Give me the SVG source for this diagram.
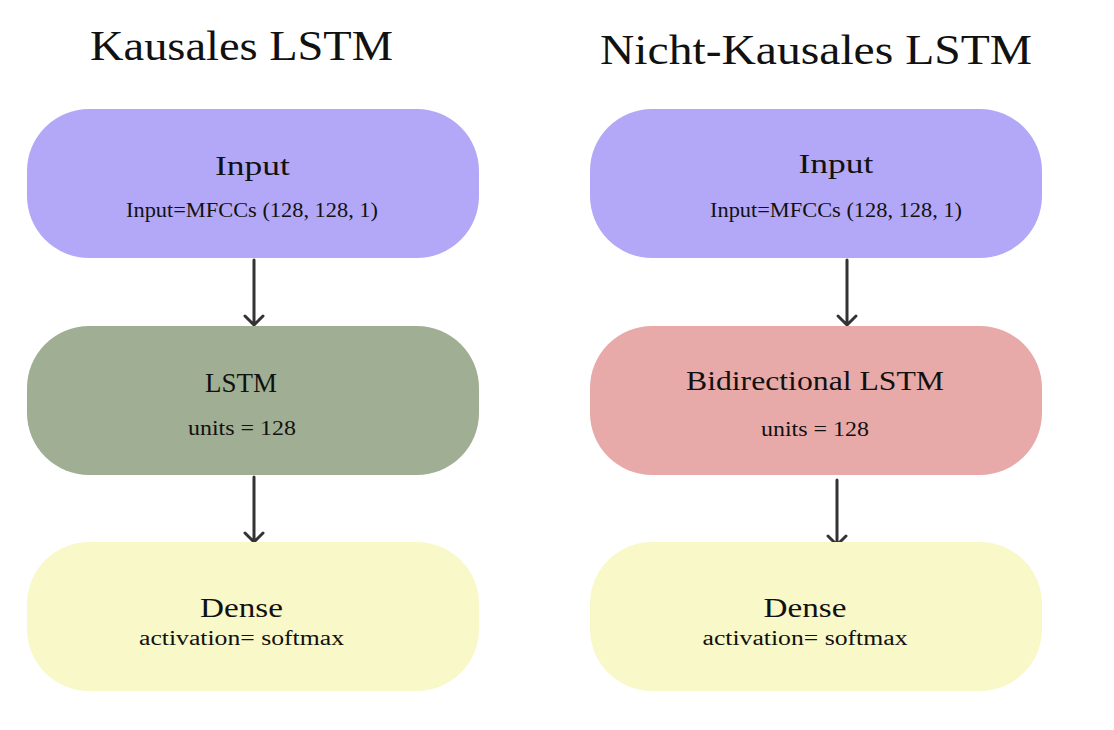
<svg xmlns="http://www.w3.org/2000/svg" width="1114" height="730" viewBox="0 0 1114 730">
<defs>
<style>
text{font-family:"Liberation Serif","DejaVu Serif",serif;fill:#111;text-anchor:middle}
.title{font-size:43px}
.head{font-size:28px}
.sub{font-size:20px}
.input{fill:#b3a8f7}
.lstm{fill:#a0af93}
.bi{fill:#e8a9a9}
.dense{fill:#f8f8c8}
.conn{stroke:#333;stroke-width:3;fill:none;stroke-linecap:round;stroke-linejoin:round}
</style>
</defs>
<rect width="1114" height="730" fill="#fff"/>
<text class="title" x="241.5" y="60" textLength="303" lengthAdjust="spacingAndGlyphs">Kausales LSTM</text>
<text class="title" x="816" y="64" textLength="432" lengthAdjust="spacingAndGlyphs">Nicht-Kausales LSTM</text>
<g id="connectors">
<path class="conn" d="M254,260 V325 M245,316 L254,325 L263,316"/>
<path class="conn" d="M254,477 V542 M245,533 L254,542 L263,533"/>
<path class="conn" d="M847,260 V325 M838,316 L847,325 L856,316"/>
<path class="conn" d="M837,480 V545 M828,536 L837,545 L846,536"/>
</g>
<g id="k-input">
<rect class="input" x="27" y="109" width="452" height="149" rx="62"/>
<text class="head" x="252.5" y="175" textLength="75" lengthAdjust="spacingAndGlyphs">Input</text>
<text class="sub" x="252" y="217" textLength="252" lengthAdjust="spacingAndGlyphs">Input=MFCCs (128, 128, 1)</text>
</g>
<g id="k-lstm">
<rect class="lstm" x="27" y="326" width="452" height="149" rx="62"/>
<text class="head" x="241" y="392" textLength="72" lengthAdjust="spacingAndGlyphs">LSTM</text>
<text class="sub" x="242" y="435" textLength="108" lengthAdjust="spacingAndGlyphs">units = 128</text>
</g>
<g id="k-dense">
<rect class="dense" x="27" y="542" width="452" height="149" rx="62"/>
<text class="head" x="241.5" y="617" textLength="83" lengthAdjust="spacingAndGlyphs">Dense</text>
<text class="sub" x="241.5" y="645" textLength="205" lengthAdjust="spacingAndGlyphs">activation= softmax</text>
</g>
<g id="n-input">
<rect class="input" x="590" y="109" width="452" height="149" rx="62"/>
<text class="head" x="836" y="173" textLength="75" lengthAdjust="spacingAndGlyphs">Input</text>
<text class="sub" x="836" y="217" textLength="252" lengthAdjust="spacingAndGlyphs">Input=MFCCs (128, 128, 1)</text>
</g>
<g id="n-bilstm">
<rect class="bi" x="590" y="326" width="452" height="149" rx="62"/>
<text class="head" x="815" y="390" textLength="258" lengthAdjust="spacingAndGlyphs">Bidirectional LSTM</text>
<text class="sub" x="815" y="436" textLength="108" lengthAdjust="spacingAndGlyphs">units = 128</text>
</g>
<g id="n-dense">
<rect class="dense" x="590" y="542" width="452" height="149" rx="62"/>
<text class="head" x="805" y="617" textLength="83" lengthAdjust="spacingAndGlyphs">Dense</text>
<text class="sub" x="805" y="645" textLength="205" lengthAdjust="spacingAndGlyphs">activation= softmax</text>
</g>
</svg>
